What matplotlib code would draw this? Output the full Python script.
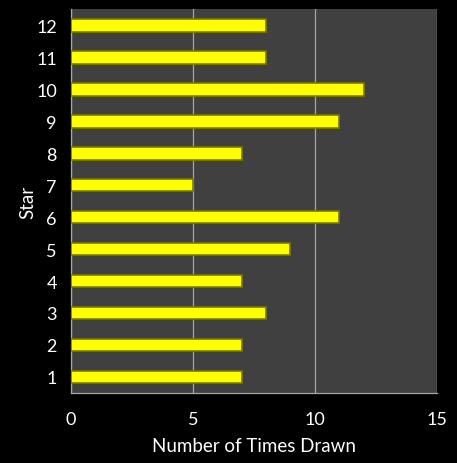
import matplotlib.pyplot as plt

stars = ['1', '2', '3', '4', '5', '6', '7', '8', '9', '10', '11', '12']
times_drawn = [7, 7, 8, 7, 9, 11, 5, 7, 11, 12, 8, 8]

plt.rcParams['font.family'] = ['Lato', 'DejaVu Sans']

fig = plt.figure(figsize=(4.57, 4.64), dpi=100, facecolor='black')
ax = fig.add_axes([0.155, 0.151, 0.801, 0.827])
ax.set_facecolor('#404040')

pos = list(range(len(stars)))
ax.barh(pos, times_drawn, height=0.4, color='#ffff00', edgecolor='#7a7a00', linewidth=1.2, zorder=3)

ax.set_xlim(0, 15)
ax.set_ylim(-0.5, len(stars) - 0.5)
ax.set_xticks([0, 5, 10, 15])
ax.set_yticks(pos)
ax.set_yticklabels(stars)
ax.grid(axis='x', color='#a6a6a6', linewidth=0.9, zorder=1)

for side in ['top', 'right']:
    ax.spines[side].set_visible(False)
for side in ['left', 'bottom']:
    ax.spines[side].set_color('#a6a6a6')
    ax.spines[side].set_linewidth(0.9)

ax.tick_params(axis='both', length=0, colors='white', labelsize=13)
ax.tick_params(axis='x', pad=13)
ax.tick_params(axis='y', pad=10)
ax.set_xlabel('Number of Times Drawn', color='white', fontsize=13.5, labelpad=7)
ax.set_ylabel('Star', color='white', fontsize=13.5, labelpad=0)

fig.savefig('out.png', dpi=100, facecolor='black')
